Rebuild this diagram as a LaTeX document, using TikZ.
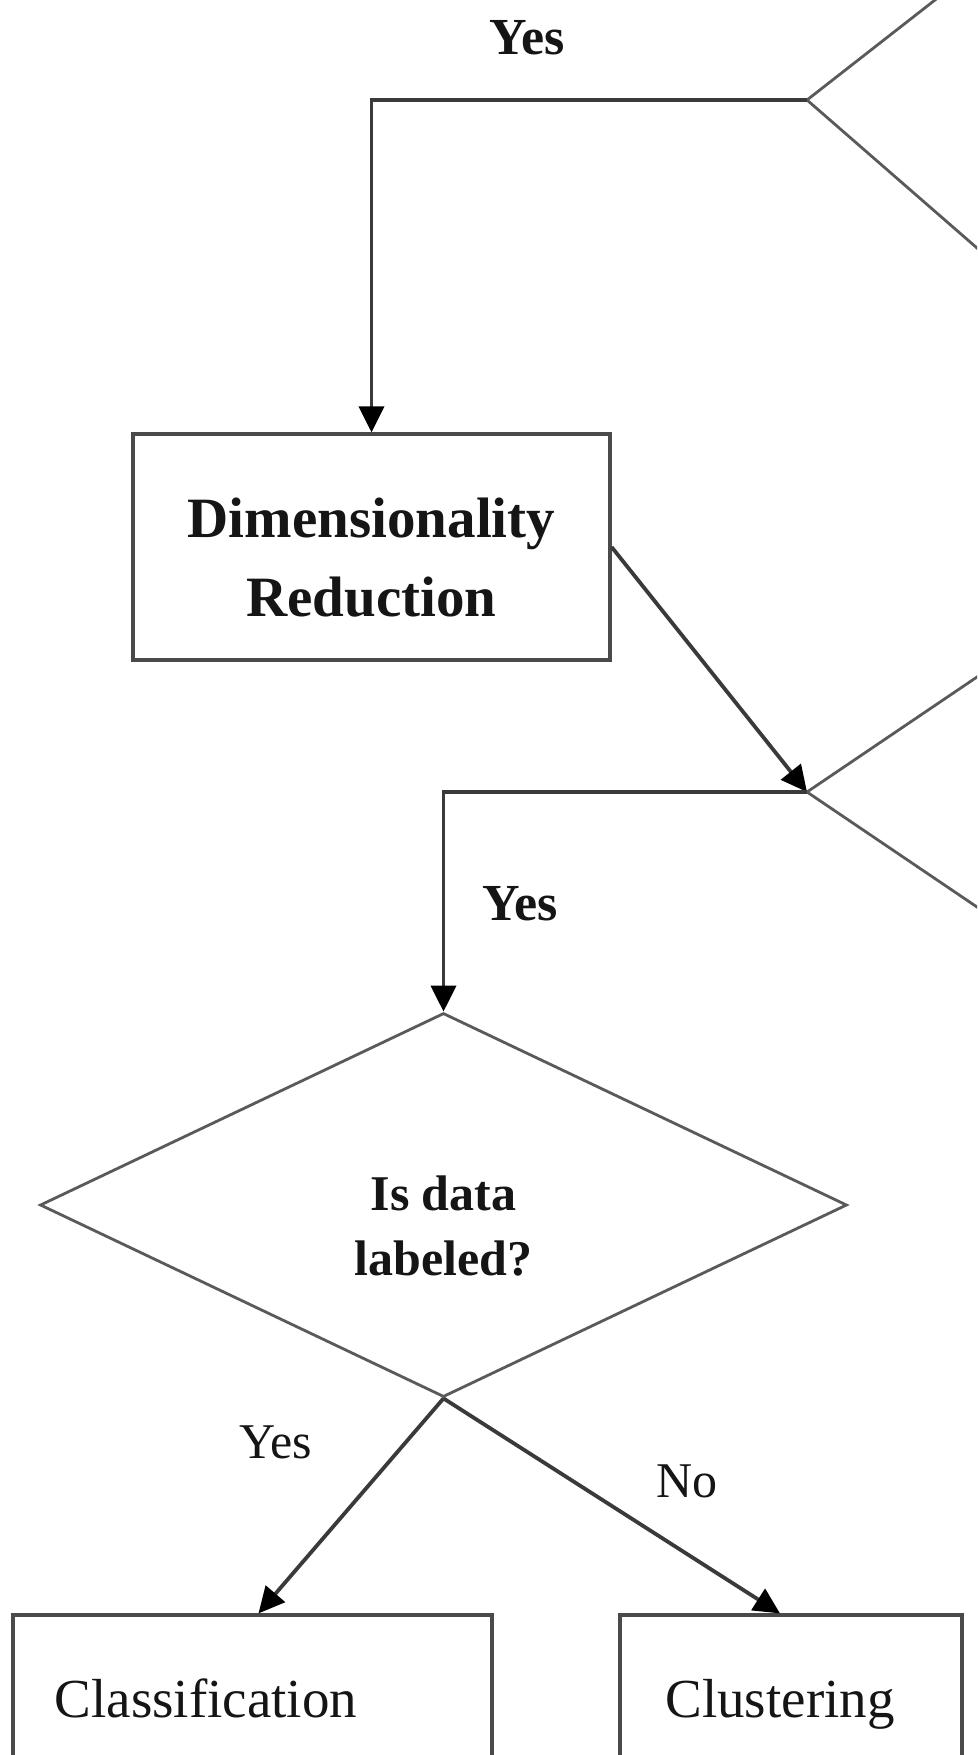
\documentclass[tikz,border=0pt]{standalone}
\usepackage{fontspec}
\setmainfont{Liberation Serif}
\usetikzlibrary{arrows.meta,shapes.geometric}
\definecolor{linec}{HTML}{3A3A3A}
\definecolor{edgec}{HTML}{5A5A5A}
\definecolor{boxc}{HTML}{4A4A4A}
\definecolor{textc}{HTML}{151515}
\begin{document}
\begin{tikzpicture}[x=1pt,y=-1pt,
  conn/.style={draw=linec,line width=3.8pt},
  arr/.style={conn,-{Triangle[length=26pt,width=25pt,color=black]}},
  dedge/.style={draw=edgec,line width=2.8pt},
  boxn/.style={draw=boxc,line width=3.2pt,inner sep=0pt,fill=none},
  lblb/.style={text=textc,inner sep=0pt,font=\bfseries\fontsize{52}{60}\selectfont},
  lblr/.style={text=textc,inner sep=0pt,font=\fontsize{50}{60}\selectfont},
  boxtxt/.style={text=textc,inner sep=0pt,align=center}]
\useasboundingbox (0,0) rectangle (977,1755);
\clip (0,0) rectangle (977,1755);
\fill[white] (0,0) rectangle (977,1755);

% partial diamonds at the right edge
\coordinate (A) at (807,100);
\coordinate (Aup) at (1063,-100);
\coordinate (Adn) at (1147,396);
\draw[dedge] (Aup) -- (A) -- (Adn);
\coordinate (B) at (807,792);
\coordinate (Bup) at (1147,562);
\coordinate (Bdn) at (1147,1022);
\draw[dedge] (Bup) -- (B) -- (Bdn);

% nodes
\node[boxn,minimum width=477pt,minimum height=226pt] (dim) at (371.5,547) {};
\node[boxtxt,font=\bfseries\fontsize{57}{79}\selectfont] (dimT) at (371.5,558) {Dimensionality\\Reduction};

\node[diamond,draw=edgec,line width=2.8pt,inner sep=0pt,minimum width=807pt,minimum height=384pt] (q) at (443.5,1205) {};
\node[boxtxt,font=\bfseries\fontsize{50}{65}\selectfont] (qT) at (443.5,1225.5) {Is data\\labeled?};

\node[boxn,minimum width=479pt,minimum height=166pt] (cls) at (252.5,1698) {};
\node[boxn,minimum width=342pt,minimum height=166pt] (clu) at (791,1698) {};
\node[text=textc,inner sep=0pt,anchor=base,font=\fontsize{55}{60}\selectfont] (clsT) at (206,1717) {Classification};
\node[text=textc,inner sep=0pt,anchor=base,font=\fontsize{55}{60}\selectfont] (cluT) at (780,1717) {Clustering};

% labels
\node[lblb,anchor=base] (y1) at (527,55) {Yes};
\node[lblb,anchor=base] (y2) at (520,920) {Yes};
\node[lblr,anchor=base] (y3) at (276,1458) {Yes};
\node[lblr,anchor=base] (n3) at (687,1497) {No};

% connectors
\draw[arr] (A) -| (dim.north);
\draw[arr] (dim.east) -- (B);
\draw[arr] (B) -| (q.north);
\draw[arr] (q.south) -- ([xshift=6pt]cls.north);
\draw[arr] (q.south) -- ([xshift=-11pt]clu.north);
\end{tikzpicture}
\end{document}
